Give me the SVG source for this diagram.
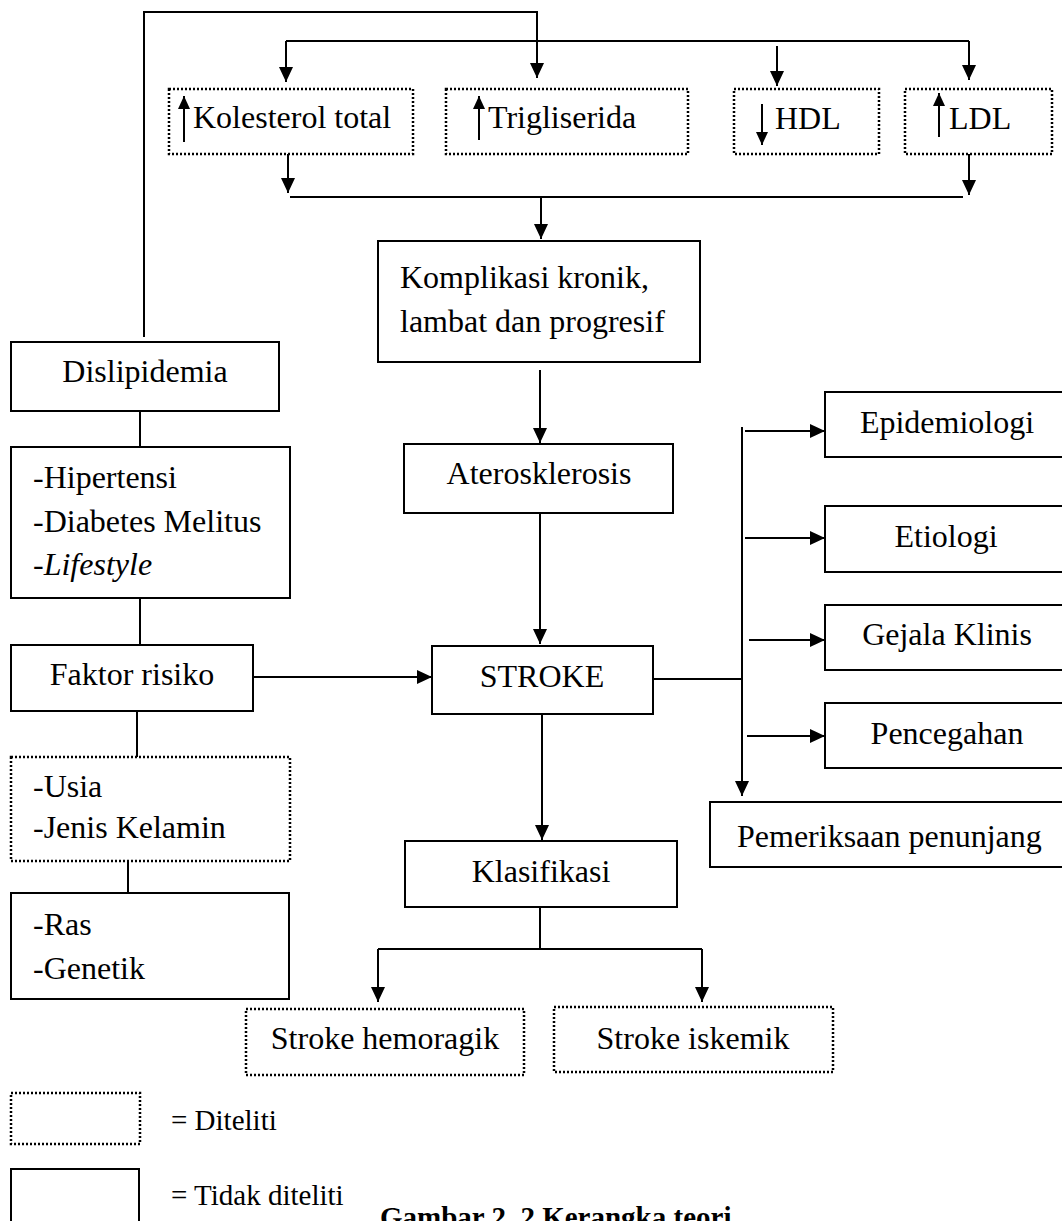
<svg xmlns="http://www.w3.org/2000/svg" width="1062" height="1221" viewBox="0 0 1062 1221">
<style>
.t{font-family:"Liberation Serif","Times New Roman",serif;font-size:32px;fill:#000}
.c{text-anchor:middle}
.lg{font-size:29px}
.b{font-weight:bold;font-size:29px}
.box{fill:#fff;stroke:#000;stroke-width:2}
.dot{fill:#fff;stroke:#000;stroke-width:2.5;stroke-dasharray:2 2}
.ln{fill:none;stroke:#000;stroke-width:2}
.ar{fill:none;stroke:#000;stroke-width:2;marker-end:url(#ah)}
.sa{fill:none;stroke:#000;stroke-width:2;marker-end:url(#sm)}
</style>
<defs>
<marker id="ah" viewBox="0 0 15 14" refX="15" refY="7" markerWidth="15" markerHeight="14" orient="auto" markerUnits="userSpaceOnUse"><path d="M0,0 L15,7 L0,14 z" fill="#000"/></marker>
<marker id="sm" viewBox="0 0 13 12" refX="13" refY="6" markerWidth="13" markerHeight="12" orient="auto" markerUnits="userSpaceOnUse"><path d="M0,0 L13,6 L0,12 z" fill="#000"/></marker>
</defs>
<rect width="1062" height="1221" fill="#fff"/>

<g id="connectors">
<path class="ar" d="M144,337 V12 H537 V78"/>
<path class="ln" d="M286,41 H969"/>
<path class="ar" d="M286,41 V82"/>
<path class="ar" d="M969,41 V80"/>
<path class="ar" d="M777,46 V86"/>
<path class="ar" d="M288,154 V193"/>
<path class="ar" d="M969,154 V195"/>
<path class="ln" d="M290,197 H963"/>
<path class="ar" d="M541,197 V239"/>
<path class="ar" d="M540,370 V443"/>
<path class="ar" d="M540,513 V644"/>
<path class="ar" d="M253,677 H432"/>
<path class="ln" d="M653,679 H742"/>
<path class="ar" d="M742,427 V796"/>
<path class="ar" d="M745,431 H825"/>
<path class="ar" d="M745,538 H825"/>
<path class="ar" d="M749,640 H825"/>
<path class="ar" d="M747,736 H825"/>
<path class="ar" d="M542,714 V840"/>
<path class="ln" d="M540,907 V949 M378,949 H702"/>
<path class="ar" d="M378,949 V1002"/>
<path class="ar" d="M702,949 V1002"/>
<path class="ln" d="M140,411 V447 M140,598 V645 M137,711 V757 M128,861 V893"/>
</g>

<g id="kolesterol">
<rect class="dot" x="169" y="89" width="244" height="65"/>
<path class="sa" d="M184,142 V96"/>
<text class="t" x="193" y="128">Kolesterol total</text>
</g>
<g id="trigliserida">
<rect class="dot" x="446" y="89" width="242" height="65"/>
<path class="sa" d="M479,140 V96"/>
<text class="t" x="488" y="128">Trigliserida</text>
</g>
<g id="hdl">
<rect class="dot" x="734" y="89" width="145" height="65"/>
<path class="sa" d="M762,104 V145"/>
<text class="t" x="775" y="129">HDL</text>
</g>
<g id="ldl">
<rect class="dot" x="905" y="89" width="147" height="65"/>
<path class="sa" d="M939,137 V93"/>
<text class="t" x="949" y="129">LDL</text>
</g>

<g id="komplikasi">
<rect class="box" x="378" y="241" width="322" height="121"/>
<text class="t" x="400" y="288">Komplikasi kronik,</text>
<text class="t" x="400" y="332">lambat dan progresif</text>
</g>
<g id="aterosklerosis">
<rect class="box" x="404" y="444" width="269" height="69"/>
<text class="t c" x="539" y="484">Aterosklerosis</text>
</g>
<g id="stroke">
<rect class="box" x="432" y="646" width="221" height="68"/>
<text class="t c" x="542" y="687">STROKE</text>
</g>
<g id="klasifikasi">
<rect class="box" x="405" y="841" width="272" height="66"/>
<text class="t c" x="541" y="882">Klasifikasi</text>
</g>
<g id="stroke-hemoragik">
<rect class="dot" x="246" y="1009" width="278" height="66"/>
<text class="t c" x="385" y="1049">Stroke hemoragik</text>
</g>
<g id="stroke-iskemik">
<rect class="dot" x="554" y="1007" width="279" height="65"/>
<text class="t c" x="693" y="1049">Stroke iskemik</text>
</g>

<g id="dislipidemia">
<rect class="box" x="11" y="342" width="268" height="69"/>
<text class="t c" x="145" y="382">Dislipidemia</text>
</g>
<g id="hipertensi">
<rect class="box" x="11" y="447" width="279" height="151"/>
<text class="t" x="33" y="488">-Hipertensi</text>
<text class="t" x="33" y="532">-Diabetes Melitus</text>
<text class="t" x="33" y="575" font-style="italic">-Lifestyle</text>
</g>
<g id="faktor-risiko">
<rect class="box" x="11" y="645" width="242" height="66"/>
<text class="t c" x="132" y="685">Faktor risiko</text>
</g>
<g id="usia">
<rect class="dot" x="11" y="757" width="279" height="104"/>
<text class="t" x="33" y="797">-Usia</text>
<text class="t" x="33" y="838">-Jenis Kelamin</text>
</g>
<g id="ras">
<rect class="box" x="11" y="893" width="278" height="106"/>
<text class="t" x="33" y="935">-Ras</text>
<text class="t" x="33" y="979">-Genetik</text>
</g>

<g id="epidemiologi">
<rect class="box" x="825" y="392" width="250" height="65"/>
<text class="t c" x="947" y="433">Epidemiologi</text>
</g>
<g id="etiologi">
<rect class="box" x="825" y="506" width="250" height="66"/>
<text class="t c" x="946" y="547">Etiologi</text>
</g>
<g id="gejala-klinis">
<rect class="box" x="825" y="605" width="250" height="65"/>
<text class="t c" x="947" y="645">Gejala Klinis</text>
</g>
<g id="pencegahan">
<rect class="box" x="825" y="703" width="250" height="65"/>
<text class="t c" x="947" y="744">Pencegahan</text>
</g>
<g id="pemeriksaan">
<rect class="box" x="710" y="802" width="365" height="65"/>
<text class="t" x="737" y="847">Pemeriksaan penunjang</text>
</g>

<g id="legend">
<rect class="dot" x="11" y="1093" width="129" height="51"/>
<text class="t lg" x="171" y="1130">= Diteliti</text>
<rect class="box" x="11" y="1169" width="128" height="70"/>
<text class="t lg" x="171" y="1205">= Tidak diteliti</text>
</g>
<text class="t b" x="380" y="1227">Gambar 2. 2 Kerangka teori</text>
</svg>
